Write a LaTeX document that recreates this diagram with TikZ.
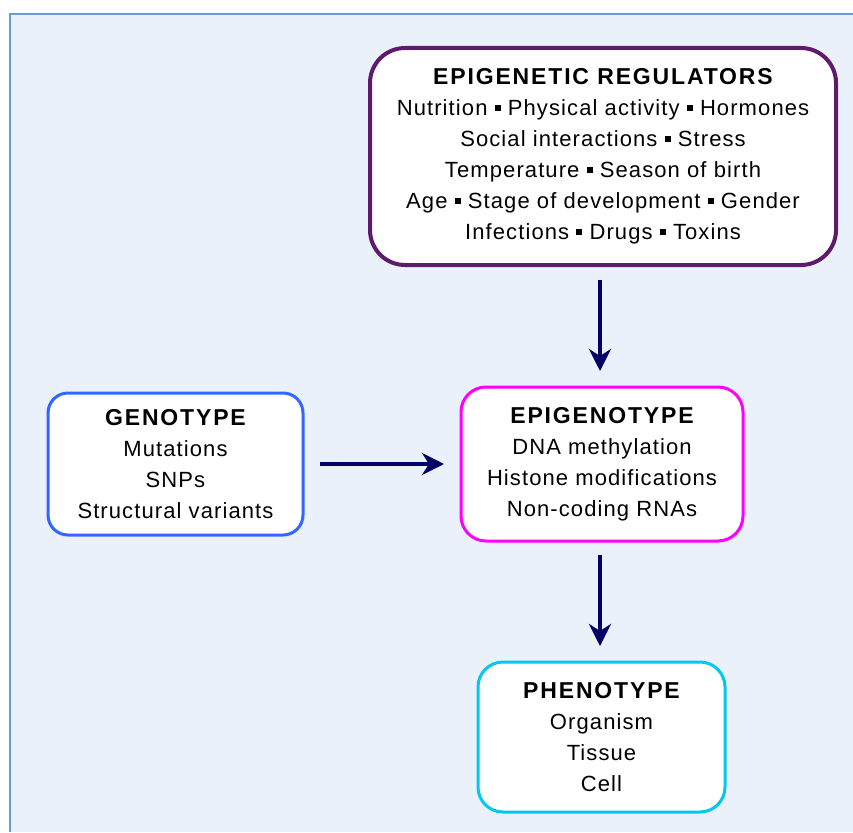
\documentclass[tikz,border=0pt]{standalone}
\usepackage{fontspec}
\setmainfont{Liberation Sans}
\newfontfamily\bodyfont[LetterSpace=5]{Liberation Sans}
\newfontfamily\headfont[LetterSpace=8]{Liberation Sans}
\usetikzlibrary{arrows.meta}
\definecolor{panelfill}{HTML}{EBF1FA}
\definecolor{panelline}{HTML}{6A9AD8}
\definecolor{regcol}{HTML}{5E1A6B}
\definecolor{gencol}{HTML}{3366FF}
\definecolor{epicol}{HTML}{FF00FF}
\definecolor{phecol}{HTML}{00C8F0}
\definecolor{arrowcol}{HTML}{000066}
\newcommand{\sep}{ \raisebox{0.22em}{\rule{0.27em}{0.27em}} }
\tikzset{
  box/.style={draw, fill=white, line width=3pt, align=center, inner sep=0pt,
    font=\bodyfont\fontsize{22}{31}\selectfont},
  conn/.style={draw=arrowcol, line width=4pt, -{Stealth[length=22pt,width=22pt,inset=7pt]}},
}
\newcommand{\hd}[1]{{\headfont\fontsize{23}{31}\selectfont\bfseries #1}}
\begin{document}
\begin{tikzpicture}[x=1pt,y=-1pt]
\useasboundingbox (0,0) rectangle (853,832);
\fill[white] (0,0) rectangle (853,832);
\fill[panelfill] (10,14) rectangle (853,832);
\draw[panelline, line width=2pt] (10,832) -- (10,14) -- (853,14);

\node[box, draw=regcol, line width=4pt, rounded corners=35pt, minimum width=466pt, minimum height=217pt] (reg) at (603,156.5)
 {\hd{EPIGENETIC REGULATORS}\\
  Nutrition\sep Physical activity\sep Hormones\\
  Social interactions\sep Stress\\
  Temperature\sep Season of birth\\
  Age\sep Stage of development\sep Gender\\
  Infections\sep Drugs\sep Toxins};

\node[box, draw=gencol, rounded corners=20pt, minimum width=255pt, minimum height=142pt] (gen) at (175.5,464)
 {\hd{GENOTYPE}\\ Mutations\\ SNPs\\ Structural variants};

\node[box, draw=epicol, rounded corners=25pt, minimum width=282pt, minimum height=154pt] (epi) at (602,464)
 {\hd{EPIGENOTYPE}\\ DNA methylation\\ Histone modifications\\ Non-coding RNAs};

\node[box, draw=phecol, rounded corners=25pt, minimum width=247pt, minimum height=150pt] (phe) at (601.5,737)
 {\hd{PHENOTYPE}\\ Organism\\ Tissue\\ Cell};

\coordinate (a1s) at (600,280);
\coordinate (a1e) at (600,371);
\coordinate (a2s) at (600,555);
\coordinate (a2e) at (600,646);
\coordinate (a3s) at (320,464);
\coordinate (a3e) at (444,464);
\draw[conn] (a1s) -- (a1e);
\draw[conn] (a2s) -- (a2e);
\draw[conn] (a3s) -- (a3e);
\end{tikzpicture}
\end{document}
